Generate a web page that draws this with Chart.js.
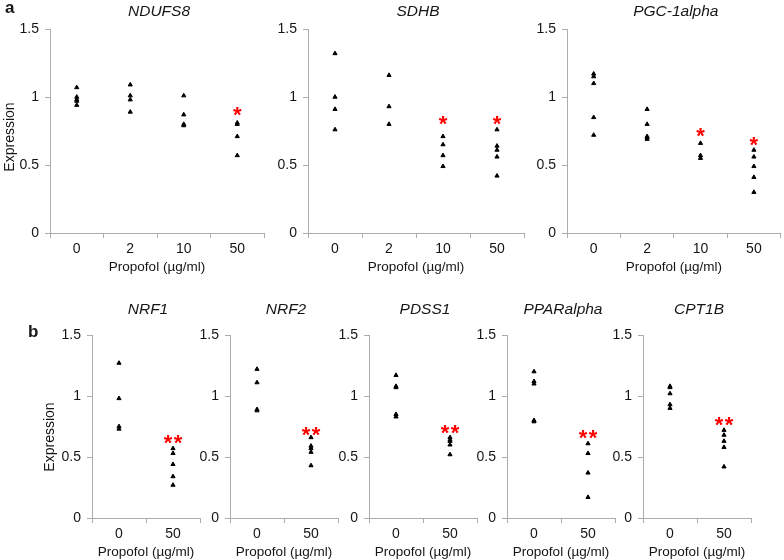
<!DOCTYPE html>
<html><head><meta charset="utf-8">
<script src="https://cdn.jsdelivr.net/npm/chart.js@4.4.1/dist/chart.umd.min.js"></script>
<style>
html,body{margin:0;padding:0;background:#fff;}
#wrap{position:relative;width:784px;height:560px;overflow:hidden;background:#fff;}
#wrap canvas{position:absolute;left:0;top:0;}
</style></head><body><div id="wrap"></div>
<script>
// ---------- data ----------
const xTitle = 'Propofol (µg/ml)';
const yTitle = 'Expression';
const doseTop = ['0', '2', '10', '50'];
const doseBottom = ['0', '50'];
const yTickValues = [0, 0.5, 1, 1.5];
const genesTop = ['NDUFS8', 'SDHB', 'PGC-1alpha'];
const genesBottom = ['NRF1', 'NRF2', 'PDSS1', 'PPARalpha', 'CPT1B'];

// expression values, one inner array per dose group
const ndufs8 = [[1.07, 1.00, 0.98, 0.97, 0.94], [1.09, 1.01, 0.98, 0.89], [1.01, 0.87, 0.80, 0.79], [0.81, 0.80, 0.71, 0.57]];
const sdhb   = [[1.32, 1.00, 0.91, 0.76], [1.16, 0.93, 0.80], [0.71, 0.65, 0.57, 0.49], [0.76, 0.64, 0.61, 0.56, 0.42]];
const pgc1a  = [[1.17, 1.15, 1.10, 0.85, 0.72], [0.91, 0.80, 0.71, 0.70, 0.69], [0.66, 0.57, 0.55], [0.61, 0.56, 0.49, 0.41, 0.30]];
const nrf1   = [[1.27, 0.98, 0.75, 0.73], [0.57, 0.53, 0.44, 0.34, 0.27]];
const nrf2   = [[1.22, 1.11, 0.89, 0.88], [0.66, 0.59, 0.57, 0.54, 0.43]];
const pdss1  = [[1.17, 1.08, 1.07, 0.85, 0.83], [0.66, 0.64, 0.63, 0.60, 0.52]];
const pparA  = [[1.20, 1.12, 1.10, 0.80, 0.79], [0.61, 0.53, 0.37, 0.17]];
const cpt1b  = [[1.08, 1.07, 1.02, 0.93, 0.90], [0.72, 0.68, 0.63, 0.58, 0.42]];

// significance marks and the level they sit at
const sigNdufs8 = ['', '', '', '*'];     const starNdufs8 = [null, null, null, 0.89];
const sigSdhb   = ['', '', '*', '*'];    const starSdhb   = [null, null, 0.83, 0.83];
const sigPgc1a  = ['', '', '*', '*'];    const starPgc1a  = [null, null, 0.74, 0.675];
const sigNrf1   = ['', '**'];            const starNrf1   = [null, 0.645];
const sigNrf2   = ['', '**'];            const starNrf2   = [null, 0.71];
const sigPdss1  = ['', '**'];            const starPdss1  = [null, 0.725];
const sigPparA  = ['', '**'];            const starPparA  = [null, 0.685];
const sigCpt1b  = ['', '**'];            const starCpt1b  = [null, 0.79];

// ---------- styling ----------
const FONT = "'Liberation Sans', Arial, Helvetica, sans-serif";
const TEXT = '#151515';
const AXIS = '#acacac';
Chart.defaults.font.family = FONT;

const W = 784, H = 560;
const X_AXIS_H = 42;

const panels = [
  {gene: genesTop[0], labels: doseTop, values: ndufs8, sig: sigNdufs8, starY: starNdufs8, area: [50, 29, 264, 233], titleY: 12, letter: 'a', letterX: 5, letterY: 13, yLabel: {x: 10, y: 137}},
  {gene: genesTop[1], labels: doseTop, values: sdhb, sig: sigSdhb, starY: starSdhb, area: [308, 29, 524, 233], titleY: 12},
  {gene: genesTop[2], labels: doseTop, values: pgc1a, sig: sigPgc1a, starY: starPgc1a, area: [567, 29, 783, 233], titleY: 12},
  {gene: genesBottom[0], labels: doseBottom, values: nrf1, sig: sigNrf1, starY: starNrf1, area: [92, 335, 200, 518], titleY: 310, letter: 'b', letterX: 28, letterY: 337, yLabel: {x: 50, y: 437}},
  {gene: genesBottom[1], labels: doseBottom, values: nrf2, sig: sigNrf2, starY: starNrf2, area: [230, 335, 338, 518], titleY: 310},
  {gene: genesBottom[2], labels: doseBottom, values: pdss1, sig: sigPdss1, starY: starPdss1, area: [369, 335, 477, 518], titleY: 310},
  {gene: genesBottom[3], labels: doseBottom, values: pparA, sig: sigPparA, starY: starPparA, area: [507, 335, 615, 518], titleY: 310},
  {gene: genesBottom[4], labels: doseBottom, values: cpt1b, sig: sigCpt1b, starY: starCpt1b, area: [643, 335, 751, 518], titleY: 310}
];

function makeAnnotPlugin(p) {
  return {
    id: 'annot',
    afterDraw(chart) {
      const {ctx, chartArea: a, scales: {x, y}} = chart;
      ctx.save();
      // gene title
      ctx.fillStyle = TEXT;
      ctx.font = `italic 15.5px ${FONT}`;
      ctx.textAlign = 'center';
      ctx.textBaseline = 'middle';
      ctx.fillText(p.gene, (a.left + a.right) / 2 + 2, p.titleY);
      // panel letter
      if (p.letter) {
        ctx.font = `bold 17px ${FONT}`;
        ctx.textAlign = 'left';
        ctx.textBaseline = 'alphabetic';
        ctx.fillText(p.letter, p.letterX, p.letterY);
      }
      // y axis label
      if (p.yLabel) {
        ctx.save();
        ctx.translate(p.yLabel.x, p.yLabel.y);
        ctx.rotate(-Math.PI / 2);
        ctx.font = `14px ${FONT}`;
        ctx.textAlign = 'center';
        ctx.textBaseline = 'middle';
        ctx.fillText(yTitle, 0, 0);
        ctx.restore();
      }
      // significance asterisks
      ctx.fillStyle = '#ff0000';
      ctx.font = `bold 22px ${FONT}`;
      ctx.textAlign = 'center';
      ctx.textBaseline = 'alphabetic';
      const m = ctx.measureText('*');
      const off = (m.actualBoundingBoxAscent - m.actualBoundingBoxDescent) / 2;
      p.sig.forEach((s, i) => {
        if (!s) return;
        const cx = x.getPixelForValue(i);
        const cy = y.getPixelForValue(p.starY[i]);
        for (let k = 0; k < s.length; k++) {
          ctx.fillText('*', cx + (k - (s.length - 1) / 2) * 10, cy + off);
        }
      });
      ctx.restore();
    }
  };
}

const wrap = document.getElementById('wrap');
panels.forEach(p => {
  const cv = document.createElement('canvas');
  cv.width = W; cv.height = H;
  cv.style.width = W + 'px'; cv.style.height = H + 'px';
  wrap.appendChild(cv);
  const [L, T, R, B] = p.area;
  const yW = 44;
  const pts = [];
  p.values.forEach((grp, i) => grp.forEach(v => pts.push({x: p.labels[i], y: v})));
  new Chart(cv.getContext('2d'), {
    type: 'line',
    data: {
      labels: p.labels,
      datasets: [{
        data: pts,
        showLine: false,
        pointStyle: 'triangle',
        pointRadius: 2.4,
        pointHoverRadius: 2.4,
        pointBackgroundColor: '#000',
        pointBorderColor: '#000',
        pointBorderWidth: 1
      }]
    },
    options: {
      responsive: false,
      animation: false,
      devicePixelRatio: 1,
      events: [],
      layout: {padding: {left: L - yW, top: T, right: W - R, bottom: H - B - X_AXIS_H}},
      plugins: {legend: {display: false}, tooltip: {enabled: false}, title: {display: false}},
      scales: {
        x: {
          type: 'category',
          offset: true,
          grid: {offset: true, drawOnChartArea: false, drawTicks: true, tickLength: 5, color: AXIS, lineWidth: 1},
          border: {display: true, color: AXIS, width: 1},
          ticks: {color: TEXT, font: {size: 14, family: FONT}, padding: 3, maxRotation: 0, autoSkip: false},
          title: {display: true, text: xTitle, color: TEXT, font: {size: 13.5, family: FONT}, padding: {top: 0, bottom: 0}},
          afterFit(s) { s.height = X_AXIS_H; }
        },
        y: {
          min: 0, max: 1.5,
          afterBuildTicks(s) { s.ticks = yTickValues.map(v => ({value: v})); },
          grid: {drawOnChartArea: false, drawTicks: true, tickLength: 5, color: AXIS, lineWidth: 1},
          border: {display: true, color: AXIS, width: 1},
          ticks: {color: TEXT, font: {size: 14, family: FONT}, padding: 6, callback: v => String(v)},
          afterFit(s) { s.width = yW; }
        }
      }
    },
    plugins: [makeAnnotPlugin(p)]
  });
});
</script></body></html>
